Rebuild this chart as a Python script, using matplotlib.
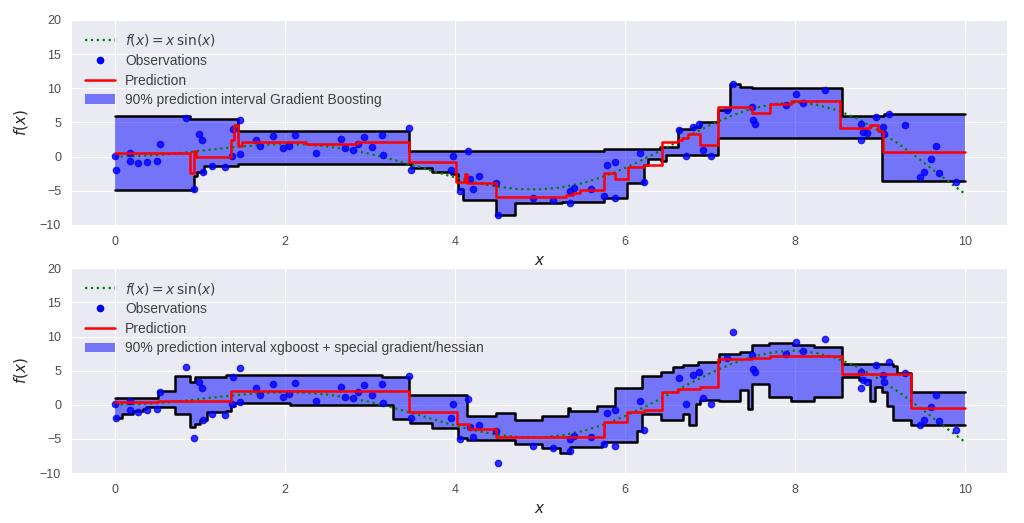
import numpy as np
import matplotlib
matplotlib.use("Agg")
import matplotlib.pyplot as plt
from matplotlib.lines import Line2D
from matplotlib.patches import Patch

plt.style.use("seaborn-v0_8-darkgrid")
plt.rcParams["font.family"] = ["Liberation Sans", "DejaVu Sans"]
plt.rcParams["font.size"] = 9

# true function f(x) = x sin(x), values read at 0.25 steps
fx = [0.0, 0.25, 0.5, 0.75, 1.0, 1.25, 1.5, 1.75, 2.0, 2.25, 2.5, 2.75, 3.0, 3.25,
      3.5, 3.75, 4.0, 4.25, 4.5, 4.75, 5.0, 5.25, 5.5, 5.75, 6.0, 6.25, 6.5, 6.75,
      7.0, 7.25, 7.5, 7.75, 8.0, 8.25, 8.5, 8.75, 9.0, 9.25, 9.5, 9.75, 10.0]
fy = [0.0, 0.06, 0.24, 0.51, 0.84, 1.19, 1.50, 1.72, 1.82, 1.75, 1.50, 1.05, 0.42,
      -0.35, -1.23, -2.14, -3.03, -3.80, -4.40, -4.75, -4.79, -4.51, -3.88, -2.92,
      -1.68, -0.21, 1.40, 3.04, 4.60, 5.97, 7.04, 7.71, 7.92, 7.61, 6.79, 5.47,
      3.71, 1.61, -0.71, -3.12, -5.44]

# observations (same in both panels)
obs_x = [0.00, 0.02, 0.18, 0.18, 0.27, 0.38, 0.50, 0.53, 0.84, 0.93, 0.99, 1.03,
         1.04, 1.14, 1.30, 1.38, 1.39, 1.47, 1.47, 1.66, 1.71, 1.86, 1.98, 2.05,
         2.12, 2.37, 2.66, 2.71, 2.80, 2.86, 2.93, 3.03, 3.14, 3.16, 3.46, 3.49,
         3.96, 3.98, 4.15, 4.06, 4.18, 4.22, 4.29, 4.48, 4.51, 4.92, 5.15, 5.36,
         5.35, 5.40, 5.60, 5.75, 5.79, 5.88, 5.89, 6.18, 6.22, 6.64, 6.72, 6.80,
         6.87, 6.92, 7.01, 7.20, 7.27, 7.49, 7.51, 7.53, 7.90, 8.01, 8.09, 8.36,
         8.78, 8.78, 8.80, 8.85, 8.95, 9.04, 9.05, 9.11, 9.29, 9.47, 9.52, 9.60,
         9.66, 9.70, 9.90]
obs_y = [0.16, -2.0, 0.6, -0.7, -1.0, -0.8, -0.6, 1.8, 5.6, -4.8, 3.3, 2.4,
         -2.3, -1.4, -1.5, 0.1, 4.1, 5.4, 0.4, 2.4, 1.5, 3.0, 1.2, 1.6,
         3.2, 0.6, 2.6, 1.2, 1.0, 1.9, 2.9, 1.4, 3.1, 0.25, 4.2, -2.0,
         -2.0, 0.05, 0.9, -5.0, -3.3, -4.7, -2.9, -3.9, -8.5, -6.1, -6.3, -6.8,
         -5.0, -4.6, -4.7, -5.7, -1.2, -0.8, -6.1, 0.55, -3.7, 3.9, 0.15, 4.3,
         4.8, 1.0, 0.15, 6.8, 10.6, 7.3, 5.3, 4.8, 7.5, 9.2, 7.9, 9.7,
         4.8, 2.4, 3.6, 3.4, 5.8, 4.3, 3.3, 6.3, 4.6, -3.0, -2.2, -0.4,
         1.5, -2.4, -3.7]

# gradient boosting: step curves (left edges, values)
gb_pred_x = [0, 0.88, 0.93, 0.96, 1.37, 1.40, 1.45, 1.50, 2.25, 2.85, 3.46, 4.02,
             4.12, 4.14, 4.49, 5.31, 5.39, 5.47, 5.75, 5.88, 6.04, 6.22, 6.44,
             6.63, 6.67, 6.74, 6.88, 7.10, 7.49, 7.71, 7.96, 8.53, 8.88, 8.98, 9.04]
gb_pred_y = [0.5, -2.4, 0.9, -0.1, 2.4, 4.6, 1.6, 2.1, 1.8, 2.2, -0.8, -3.7,
             -2.5, -3.8, -5.9, -5.6, -5.3, -4.9, -2.4, -3.3, -1.5, -1.2, 2.1,
             2.4, 2.8, 3.3, 1.7, 7.3, 6.4, 7.7, 8.1, 4.2, 4.6, 3.8, 0.7]
gb_up_x = [0, 0.88, 1.45, 3.46, 5.75, 6.41, 6.63, 6.80, 6.88, 7.10, 7.24, 7.35,
           7.49, 8.55, 9.05]
gb_up_y = [5.9, 5.5, 3.7, 0.9, 1.1, 1.4, 4.0, 4.4, 5.1, 6.9, 10.6, 10.2,
           10.0, 6.0, 6.3]
gb_lo_x = [0, 0.93, 0.97, 1.05, 1.30, 1.45, 3.49, 3.73, 3.96, 4.04, 4.10, 4.49,
           4.71, 5.26, 5.75, 6.02, 6.22, 6.27, 6.43, 6.48, 7.10, 9.03]
gb_lo_y = [-4.85, -2.8, -2.2, -1.4, -1.3, -1.1, -1.7, -2.2, -2.5, -4.8, -6.3, -8.6,
           -6.8, -6.7, -6.0, -3.8, -1.2, -0.4, -0.7, 0.25, 2.7, -3.5]

# xgboost with special gradient/hessian
xg_pred_x = [0, 0.51, 1.37, 3.46, 4.03, 4.17, 4.49, 5.75, 6.02, 6.22, 6.44, 6.63,
             6.88, 7.10, 7.49, 7.71, 8.55, 9.37]
xg_pred_y = [0.44, 0.6, 2.0, -1.0, -2.8, -3.5, -4.7, -2.5, -1.0, -0.8, 1.9, 2.3,
             2.6, 6.7, 6.9, 7.1, 4.5, -0.5]
xg_up_x = [0, 0.51, 0.71, 0.88, 0.94, 1.31, 1.41, 3.14, 3.46, 4.14, 4.49, 4.71,
           5.02, 5.33, 5.35, 5.67, 5.88, 6.20, 6.43, 6.57, 6.69, 6.86, 7.11, 7.35,
           7.49, 7.69, 7.98, 8.22, 8.55, 9.16, 9.20, 9.37]
xg_up_y = [1.0, 2.0, 4.2, 3.4, 4.0, 4.3, 4.4, 4.0, 1.5, -1.6, -1.2, -2.2,
           -1.6, -0.5, -0.9, -0.15, 2.5, 4.2, 4.8, 5.5, 5.9, 6.2, 7.4, 7.7,
           8.8, 9.0, 8.7, 8.5, 6.0, 5.7, 4.7, 1.8]
xg_lo_x = [0, 0.08, 0.22, 0.33, 0.37, 0.71, 0.88, 0.94, 1.0, 1.08, 1.31, 1.37,
           1.41, 2.06, 3.27, 3.47, 3.73, 4.04, 4.14, 4.71, 5.02, 5.24, 5.35, 5.73,
           5.75, 6.14, 6.20, 6.43, 6.69, 6.76, 6.84, 6.88, 7.11, 7.35, 7.45, 7.49,
           7.69, 7.96, 8.22, 8.55, 8.76, 8.88, 8.94, 9.02, 9.08, 9.16, 9.37]
xg_lo_y = [-1.9, -1.3, -0.9, -0.6, -0.4, -1.3, -3.2, -2.8, -2.2, -1.1, -0.9, -0.2,
           0.3, 0.0, -2.1, -2.6, -3.4, -4.9, -5.1, -5.7, -6.3, -7.0, -6.2, -5.8,
           -5.5, -3.8, -1.4, -2.3, -1.4, -2.9, 0.1, 0.7, 0.5, 2.1, -0.6, 3.0,
           1.2, 0.6, 1.2, 4.0, 3.6, 0.6, 2.6, 1.8, -0.15, -2.3, -2.9]

XMAX = 10.0


def steps(bx, by):
    return list(bx) + [XMAX], list(by) + [by[-1]]


def at(bx, by, grid):
    idx = np.searchsorted(bx, grid, side="right") - 1
    return np.asarray(by)[idx]


def panel(ax, px, py, ux, uy, lx, ly, label):
    grid = np.array(sorted(set(ux) | set(lx) | {XMAX}))
    ax.fill_between(grid, at(lx, ly, grid), at(ux, uy, grid), step="post",
                    facecolor="b", edgecolor="none", alpha=0.5, zorder=1)
    ax.plot(fx, fy, "g:", lw=1.6, zorder=3)
    ax.plot(obs_x, obs_y, "b.", markersize=9, alpha=0.8, zorder=4)
    x, y = steps(ux, uy)
    ax.step(x, y, where="post", color="k", lw=1.8, zorder=2)
    x, y = steps(lx, ly)
    ax.step(x, y, where="post", color="k", lw=1.8, zorder=2)
    x, y = steps(px, py)
    ax.step(x, y, where="post", color="r", lw=1.8, zorder=5)
    ax.set_xlim(-0.5, 10.5)
    ax.set_ylim(-10, 20)
    ax.set_xticks([0, 2, 4, 6, 8, 10])
    ax.set_yticks([-10, -5, 0, 5, 10, 15, 20])
    ax.set_xlabel("$x$", fontsize=11)
    ax.set_ylabel("$f(x)$", fontsize=11, labelpad=7)
    ax.tick_params(labelsize=9, colors="0.3", pad=8)
    handles = [
        Line2D([], [], color="g", ls=":", lw=1.6),
        Line2D([], [], color="b", marker=".", ls="none", markersize=9),
        Line2D([], [], color="r", lw=1.8),
        Patch(facecolor="b", alpha=0.5, edgecolor="none"),
    ]
    labels = ["$f(x) = x\\,\\sin(x)$", "Observations", "Prediction", label]
    ax.legend(handles, labels, loc="upper left", frameon=False, fontsize=10,
              handlelength=2.2, handletextpad=0.7, labelspacing=0.4,
              labelcolor="0.25")


fig = plt.figure(figsize=(10.24, 5.23), dpi=100)
ax1 = fig.add_axes([0.0705, 0.5698, 0.9133, 0.392])
ax2 = fig.add_axes([0.0705, 0.0956, 0.9133, 0.3914])

panel(ax1, gb_pred_x, gb_pred_y, gb_up_x, gb_up_y, gb_lo_x, gb_lo_y,
      "90% prediction interval Gradient Boosting")
panel(ax2, xg_pred_x, xg_pred_y, xg_up_x, xg_up_y, xg_lo_x, xg_lo_y,
      "90% prediction interval xgboost + special gradient/hessian")

fig.savefig("out.png", dpi=100)
